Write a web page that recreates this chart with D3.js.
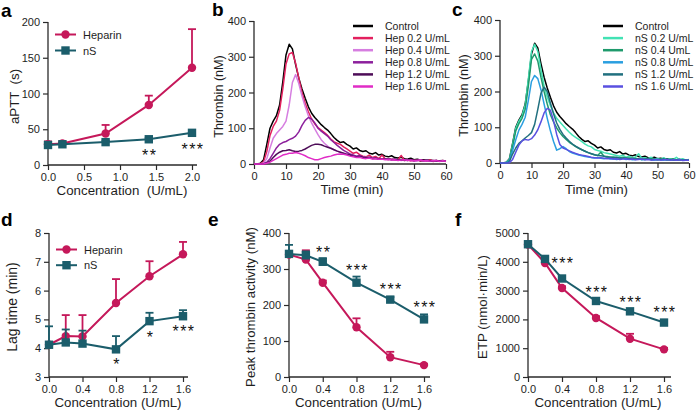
<!DOCTYPE html>
<html><head><meta charset="utf-8">
<script src="https://cdn.jsdelivr.net/npm/d3@7"></script>
<style>
body{margin:0;background:#fff;}
svg{display:block;font-family:"Liberation Sans",Arial,Helvetica,sans-serif;}
</style></head><body>
<svg id="chart" width="698" height="414"></svg>
<script>
// ---------- DATA ----------
const doseA = [0, 0.2, 0.8, 1.4, 2.0];
const aptHep = [29, 30, 44, 84, 136];
const aptHepErr = [33, 33, 56, 97, 190];
const aptNS = [28, 29, 32, 36, 45];
const aptNSErr = [30, 31, 34, 38, 47];
const aptStars = [{x:1.4, y:18.6, t:"**"}, {x:2.0, y:27, t:"***"}];

const doseD = [0, 0.2, 0.4, 0.8, 1.2, 1.6];
const lagHep = [4.12, 4.42, 4.41, 5.57, 6.5, 7.26];
const lagHepErr = [4.2, 5.15, 5.15, 6.4, 7.02, 7.69];
const lagNS = [4.12, 4.2, 4.16, 3.96, 4.94, 5.11];
const lagNSErr = [4.76, 4.65, 4.61, 4.42, 5.23, 5.32];
const lagStars = [{x:0.8, y:3.59, t:"*"}, {x:1.2, y:4.52, t:"*"}, {x:1.6, y:4.71, t:"***"}];

const peakHep = [340, 326, 262, 138, 55, 33];
const peakHepErr = [345, 352, 268, 163, 70, 36];
const peakNS = [342, 338, 320, 262, 215, 160];
const peakNSErr = [367, 349, 330, 279, 222, 174];
const peakStars = [{x:0.4, y:357, t:"**"}, {x:0.8, y:306, t:"***"}, {x:1.2, y:253, t:"***"}, {x:1.6, y:203, t:"***"}];

const etpHep = [4600, 3960, 3090, 2050, 1330, 960];
const etpHepErr = [4650, 4010, 3150, 2110, 1500, 1010];
const etpNS = [4610, 4100, 3420, 2640, 2280, 1890];
const etpNSErr = [4660, 4180, 3480, 2700, 2330, 1940];
const etpStars = [{x:0.4, y:4087, t:"***"}, {x:0.8, y:3080, t:"***"}, {x:1.2, y:2732, t:"***"}, {x:1.6, y:2385, t:"***"}];

const timeMin = [0,1,2,3,4,5,6,7,8,9,10,11,12,13,14,15,16,17,18,19,20,21,22,23,24,25,26,27,28,29,30,
  31,32,33,34,35,36,37,38,39,40,41,42,43,44,45,46,47,48,49,50,51,52,53,54,55,56,57,58,59,60];

const control = [0,0,2,12,55, 100,120,135,165,230, 305,335,322,278,240, 210,184,160,142,130, 120,110,102,95,85, 74,66,60,62,55, 50,42,45,38,35, 37,30,28,32,25, 27,22,20,23,18, 17,19,15,14,16, 12,13,11,12,10, 11,9,10,8,9, 8];
const hep02 = [0,0,1,6,35, 80,105,120,150,210, 280,308,312,282,240, 200,170,146,126,112, 102,95,88,80,70, 62,58,55,48,42, 36,30,33,26,22, 20,25,18,21,15, 25,14,12,15,11, 12,24,10,12,8, 10,12,8,10,8, 12,7,10,8,10, 7];
const hep04 = [0,0,0,3,15, 45,72,85,95,105, 120,165,228,250,225, 190,160,135,115,98, 82,68,58,50,44, 40,36,33,30,28, 26,24,22,20,19, 18,17,16,15,14, 15,13,12,14,11, 12,10,11,13,9, 10,9,11,8,10, 9,8,10,7,9, 8];
const hep08 = [0,0,0,1,5, 15,30,45,55,60, 63,68,72,78,90, 108,122,130,126,115, 100,92,85,78,68, 60,52,45,38,33, 28,25,22,24,20, 18,19,16,17,14, 15,13,14,12,13, 11,12,10,11,12, 9,10,11,9,10, 8,9,10,8,9, 8];
const hep12 = [0,0,0,0,3, 8,18,27,33,37, 38,40,37,35,36, 38,42,47,52,55, 55,54,50,47,44, 40,36,33,30,27, 25,22,20,21,18, 17,18,15,16,14, 15,13,14,12,13, 11,12,11,10,12, 10,11,9,10,11, 9,10,8,9,10, 8];
const hep16 = [0,0,0,0,2, 5,10,15,20,25, 27,30,30,32,30, 27,23,18,15,12, 12,15,18,20,22, 25,27,28,27,25, 22,20,18,19,16, 15,17,14,15,13, 14,12,13,11,12, 10,11,12,10,11, 9,10,11,9,10, 8,10,9,8,9, 8];

const ns02 = [0,0,2,10,52, 97,117,132,162,235, 312,332,312,262,215, 185,160,140,125,115, 105,95,86,78,72, 66,60,53,48,45, 38,35,33,29,27, 25,23,21,19,22, 16,19,15,17,26, 13,15,12,16,11, 13,10,15,9,12, 10,16,9,12,8, 10];
const ns04 = [0,0,1,8,45, 90,110,125,150,215, 290,305,285,240,200, 165,135,115,98,85, 74,66,58,52,46, 41,37,33,29,26, 23,21,30,19,18, 16,17,15,14,16, 13,14,12,13,11, 12,10,11,12,9, 10,11,9,10,9, 11,8,10,9,8, 9];
const ns08 = [0,0,1,6,35, 65,92,108,128,175, 228,245,236,205,165, 125,90,60,36,40, 46,40,32,28,25, 22,20,18,17,15, 14,15,13,12,14, 11,12,10,11,13, 10,11,9,10,12, 9,10,11,9,8, 10,9,8,10,9, 8,9,10,8,9, 8];
const ns12 = [0,0,0,4,25, 42,55,62,70,77, 85,108,150,195,212, 200,168,138,112,94, 80,70,61,53,47, 42,37,33,29,26, 23,21,20,19,17, 16,15,16,14,13, 14,12,13,11,12, 10,11,12,10,11, 9,10,11,9,10, 8,9,10,8,9, 8];
const ns16 = [0,0,0,1,10, 30,50,62,66,64, 68,78,93,115,140, 153,148,118,80,52, 42,38,34,30,27, 24,22,20,18,16, 15,14,15,13,12, 13,11,12,10,11, 12,10,11,9,10, 11,9,10,8,9, 10,8,9,10,8, 9,8,9,7,8, 8];

const hepLabels = ["Control","Hep 0.2 U/mL","Hep 0.4 U/mL","Hep 0.8 U/mL","Hep 1.2 U/mL","Hep 1.6 U/mL"];
const nsLabels = ["Control","nS 0.2 U/mL","nS 0.4 UmL","nS 0.8 U/mL","nS 1.2 U/mL","nS 1.6 U/mL"];

// ---------- STYLE ----------
const HEP = "#c5185a", NS = "#1b5d6b", AX = "#2a2a2a", TXT = "#1e1e1e";
const hepColors = ["#000000","#e3205e","#d67ee0","#8c209c","#4e0d58","#e02cc6"];
const nsColors = ["#000000","#42e2b4","#1f9a6c","#2a9fe0","#21707f","#5a50e0"];

const svg = d3.select("#chart");

function axes(g, x, y, xTicks, yTicks, xFmt, yFmt, xExt) {
  const xa = g.append("g").attr("transform", `translate(0,${y.range()[0]})`)
    .call(d3.axisBottom(x).tickValues(xTicks).tickFormat(xFmt).tickSize(5).tickPadding(3));
  const ya = g.append("g").attr("transform", `translate(${x.range()[0]},0)`)
    .call(d3.axisLeft(y).tickValues(yTicks).tickFormat(yFmt).tickSize(5).tickPadding(3));
  [xa, ya].forEach(a => {
    a.select(".domain").remove();
    a.selectAll(".tick line").attr("stroke", AX).attr("stroke-width", 1.2);
    a.selectAll(".tick text").attr("fill", TXT).style("font-size", "11px")
      .style("font-family", '"Liberation Sans",Arial,sans-serif');
  });
  g.append("line").attr("x1", x.range()[0]).attr("x2", x.range()[1] + xExt)
    .attr("y1", y.range()[0]).attr("y2", y.range()[0]).attr("stroke", AX).attr("stroke-width", 1.3);
  g.append("line").attr("x1", x.range()[0]).attr("x2", x.range()[0])
    .attr("y1", y.range()[0]).attr("y2", y.range()[1]).attr("stroke", AX).attr("stroke-width", 1.3);
}

function titles(g, x, y, xt, yt, xtY, ytX, ySize, yShift) {
  g.append("text").attr("x", (x.range()[0] + x.range()[1]) / 2 + 2).attr("y", xtY)
    .attr("text-anchor", "middle").attr("fill", TXT).style("font-size", "13.3px")
    .style("white-space", "pre").text(xt);
  const cy = (y.range()[0] + y.range()[1]) / 2 + (yShift || 0);
  g.append("text").attr("transform", `translate(${ytX},${cy}) rotate(-90)`)
    .attr("text-anchor", "middle").attr("fill", TXT).style("font-size", (ySize || 13.3) + "px")
    .style("white-space", "pre").text(yt);
}

function panelLabel(t, x, y) {
  svg.append("text").attr("x", x).attr("y", y).attr("fill", "#000")
    .style("font-size", "19px").style("font-weight", "bold").text(t);
}

function series(g, x, y, xs, vals, errs, color, shape) {
  g.append("path").datum(vals.map((v, i) => [xs[i], v]))
    .attr("d", d3.line().x(d => x(d[0])).y(d => y(d[1])))
    .attr("fill", "none").attr("stroke", color).attr("stroke-width", 2);
  vals.forEach((v, i) => {
    const cx = x(xs[i]);
    g.append("line").attr("x1", cx).attr("x2", cx).attr("y1", y(v)).attr("y2", y(errs[i]))
      .attr("stroke", color).attr("stroke-width", 1.8);
    g.append("line").attr("x1", cx - 4).attr("x2", cx + 4).attr("y1", y(errs[i])).attr("y2", y(errs[i]))
      .attr("stroke", color).attr("stroke-width", 1.8);
  });
  vals.forEach((v, i) => {
    const cx = x(xs[i]), cy = y(v);
    if (shape === "circle") g.append("circle").attr("cx", cx).attr("cy", cy).attr("r", 4.2).attr("fill", color);
    else g.append("rect").attr("x", cx - 4.2).attr("y", cy - 4.2).attr("width", 8.4).attr("height", 8.4).attr("fill", color);
  });
}

function stars(g, x, y, list) {
  list.forEach(s => {
    g.append("text").attr("x", x(s.x) + 1).attr("y", y(s.y) + 9.5).attr("text-anchor", "middle")
      .attr("fill", "#111").style("font-size", "16px").style("letter-spacing", "1.5px").text(s.t);
  });
}

function doseLegend(g, x0, y0, dy) {
  [["Heparin", HEP, "circle"], ["nS", NS, "rect"]].forEach((d, i) => {
    const yy = y0 + i * dy;
    g.append("line").attr("x1", x0).attr("x2", x0 + 21).attr("y1", yy).attr("y2", yy)
      .attr("stroke", d[1]).attr("stroke-width", 2);
    if (d[2] === "circle") g.append("circle").attr("cx", x0 + 10.5).attr("cy", yy).attr("r", 4.2).attr("fill", d[1]);
    else g.append("rect").attr("x", x0 + 6.3).attr("y", yy - 4.2).attr("width", 8.4).attr("height", 8.4).attr("fill", d[1]);
    g.append("text").attr("x", x0 + 28).attr("y", yy + 4).attr("fill", TXT).style("font-size", "11px").text(d[0]);
  });
}

const f1 = d3.format(".1f"), f0 = d3.format("d");

// ---------- PANEL a ----------
{
  const g = svg.append("g");
  const x = d3.scaleLinear().domain([0, 2]).range([48, 192]);
  const y = d3.scaleLinear().domain([0, 200]).range([165, 22]);
  axes(g, x, y, [0, 0.5, 1, 1.5, 2], [0, 50, 100, 150, 200], f1, f0, 5);
  series(g, x, y, doseA, aptHep, aptHepErr, HEP, "circle");
  series(g, x, y, doseA, aptNS, aptNSErr, NS, "rect");
  stars(g, x, y, aptStars);
  doseLegend(g, 55, 34.5, 16);
  titles(g, x, y, "Concentration  (U/mL)", "aPTT  (s)", 195, 19, 13.3, 3);
  panelLabel("a", 1, 17);
}

// ---------- PANELS b, c ----------
function curvePanel(x0, x1, yB, yT, sets, colors, labels, lx, ytX, lab, labX) {
  const g = svg.append("g");
  const x = d3.scaleLinear().domain([0, 60]).range([x0, x1]);
  const y = d3.scaleLinear().domain([0, 400]).range([yB, yT]);
  axes(g, x, y, [0, 10, 20, 30, 40, 50, 60], [0, 100, 200, 300, 400], f0, f0, 0);
  const line = d3.line().x(d => x(d[0])).y(d => y(d[1]));
  sets.forEach((s, k) => {
    g.append("path").datum(s.map((v, i) => [timeMin[i], v])).attr("d", line)
      .attr("fill", "none").attr("stroke", colors[k]).attr("stroke-width", 1.5)
      .attr("stroke-linejoin", "round");
  });
  labels.forEach((t, i) => {
    const yy = 26 + i * 12.1;
    g.append("line").attr("x1", lx).attr("x2", lx + 20).attr("y1", yy).attr("y2", yy)
      .attr("stroke", colors[i]).attr("stroke-width", 2.5);
    g.append("text").attr("x", lx + 32).attr("y", yy + 3.6).attr("fill", TXT).style("font-size", "10.5px").text(t);
  });
  titles(g, x, y, "Time (min)", "Thrombin (nM)", 194, ytX, 12.6, 4);
  panelLabel(lab, labX, 16);
}
curvePanel(254, 446, 164, 21, [control, hep02, hep04, hep08, hep12, hep16], hepColors, hepLabels, 353, 223, "b", 212);
curvePanel(500, 689, 163, 20, [control, ns02, ns04, ns08, ns12, ns16], nsColors, nsLabels, 603, 468, "c", 452);

// ---------- PANEL d ----------
{
  const g = svg.append("g");
  const x = d3.scaleLinear().domain([0, 1.6]).range([49, 183]);
  const y = d3.scaleLinear().domain([3, 8]).range([377, 233]);
  axes(g, x, y, [0, 0.4, 0.8, 1.2, 1.6], [3, 4, 5, 6, 7, 8], f1, f0, 5);
  series(g, x, y, doseD, lagHep, lagHepErr, HEP, "circle");
  series(g, x, y, doseD, lagNS, lagNSErr, NS, "rect");
  stars(g, x, y, lagStars);
  doseLegend(g, 56, 249.5, 15.7);
  titles(g, x, y, "Concentration (U/mL)", "Lag time (min)", 407, 17, 14, 2);
  panelLabel("d", 1, 226);
}
// ---------- PANEL e ----------
{
  const g = svg.append("g");
  const x = d3.scaleLinear().domain([0, 1.6]).range([289, 424]);
  const y = d3.scaleLinear().domain([0, 400]).range([377, 233]);
  axes(g, x, y, [0, 0.4, 0.8, 1.2, 1.6], [0, 100, 200, 300, 400], f1, f0, 6);
  series(g, x, y, doseD, peakHep, peakHepErr, HEP, "circle");
  series(g, x, y, doseD, peakNS, peakNSErr, NS, "rect");
  stars(g, x, y, peakStars);
  titles(g, x, y, "Concentration (U/mL)", "Peak thrombin activity (nM)", 407, 255, 13.2, 2);
  panelLabel("e", 208, 226);
}
// ---------- PANEL f ----------
{
  const g = svg.append("g");
  const x = d3.scaleLinear().domain([0, 1.6]).range([528, 664]);
  const y = d3.scaleLinear().domain([0, 5000]).range([377, 233]);
  axes(g, x, y, [0, 0.4, 0.8, 1.2, 1.6], [0, 1000, 2000, 3000, 4000, 5000], f1, f0, 7);
  series(g, x, y, doseD, etpHep, etpHepErr, HEP, "circle");
  series(g, x, y, doseD, etpNS, etpNSErr, NS, "rect");
  stars(g, x, y, etpStars);
  titles(g, x, y, "Concentration (U/mL)", "ETP (nmol\u00b7min/L)", 407, 487, 13.3, 2);
  panelLabel("f", 455, 226);
}
</script></body></html>
